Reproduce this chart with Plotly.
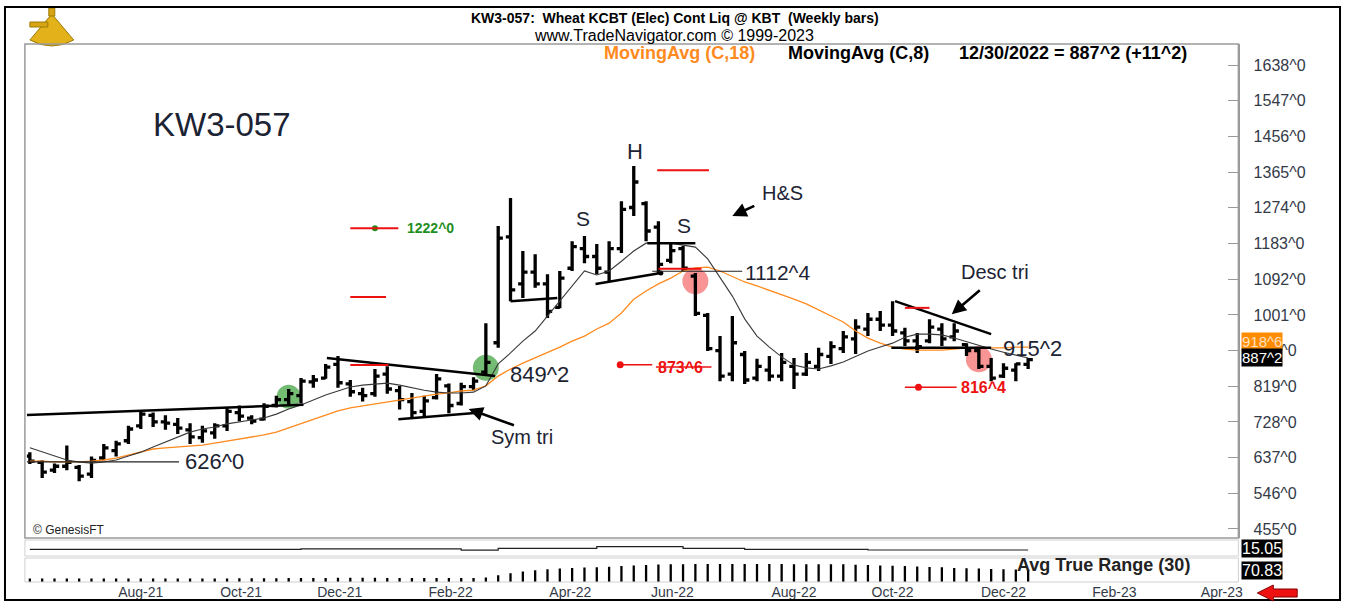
import pandas as pd
import plotly.graph_objects as go

# ---------------- data ----------------
OPEN = [641, 625, 605, 615, 612, 595, 636, 655, 680, 718,
        745, 728, 722, 708, 688, 700, 718, 752, 738, 735,
        770, 785, 795, 830, 840, 875, 825, 800, 800, 850,
        808, 780, 755, 790, 820, 775, 818, 855, 930, 1200,
        1080, 1110, 1080, 1020, 1120, 1170, 1150, 1110, 1170, 1275,
        1285, 1225, 1140, 1170, 1100, 1000, 910, 850, 900, 840,
        860, 845, 870, 850, 870, 895, 915, 940, 965, 990,
        975, 955, 935, 935, 965, 945, 925, 910, 870, 845,
        860, 875]
HIGH = [651, 630, 622, 668, 618, 640, 672, 680, 718, 756,
        752, 745, 738, 725, 718, 725, 765, 770, 745, 776,
        795, 812, 840, 848, 876, 896, 835, 815, 863, 870,
        820, 802, 795, 850, 826, 828, 842, 980, 1228, 1299,
        1164, 1156, 1105, 1113, 1189, 1202, 1182, 1189, 1291, 1381,
        1291, 1240, 1182, 1177, 1108, 1006, 947, 998, 909, 889,
        896, 904, 891, 904, 917, 934, 960, 990, 1006, 1011,
        1036, 968, 955, 990, 980, 980, 929, 917, 891, 878,
        878, 891]
LOW = [621, 585, 598, 605, 577, 585, 630, 640, 672, 710,
       715, 708, 697, 672, 675, 685, 705, 730, 722, 732,
       765, 772, 775, 815, 838, 815, 792, 780, 792, 800,
       760, 738, 742, 785, 750, 770, 808, 849, 917, 1036,
       1044, 1070, 993, 1018, 1113, 1133, 1105, 1087, 1159, 1253,
       1189, 1108, 1133, 1113, 998, 909, 832, 832, 825, 832,
       832, 832, 812, 845, 858, 876, 904, 901, 947, 960,
       947, 922, 904, 929, 922, 934, 896, 863, 832, 840,
       832, 863]
CLOSE = [628, 600, 615, 625, 590, 630, 662, 672, 710, 748,
         728, 725, 712, 690, 705, 718, 755, 743, 730, 768,
         785, 800, 832, 835, 868, 828, 805, 795, 845, 812,
         785, 752, 782, 838, 770, 818, 832, 880, 1197, 1065,
         1110, 1080, 1010, 1095, 1175, 1150, 1120, 1170, 1270, 1340,
         1215, 1130, 1165, 1120, 1005, 915, 845, 930, 835, 870,
         845, 880, 850, 880, 900, 920, 945, 970, 990, 975,
         960, 935, 920, 970, 940, 960, 910, 870, 840, 865,
         876, 887.2]
MA18 = [628, 628, 626, 626, 626, 628, 631, 636, 644, 651,
        659, 662, 664, 667, 669, 674, 679, 685, 690, 695,
        702, 713, 725, 736, 746, 756, 764, 769, 774, 779,
        784, 789, 794, 799, 802, 807, 809, 820, 845, 863,
        878, 891, 904, 919, 934, 947, 965, 980, 1006, 1041,
        1062, 1080, 1095, 1113, 1121, 1123, 1113, 1100, 1085, 1075,
        1064, 1054, 1041, 1029, 1013, 998, 983, 960, 942, 929,
        919, 914, 911, 911, 911, 914, 917, 917, 917, 917,
        919, 918.6]
MA8 = [662, 651, 641, 631, 626, 623, 626, 631, 641, 651,
       664, 677, 690, 702, 710, 715, 723, 728, 733, 738,
       748, 761, 771, 784, 797, 807, 817, 822, 825, 827,
       822, 815, 809, 804, 802, 802, 804, 820, 876, 904,
       934, 960, 998, 1036, 1075, 1113, 1103, 1113, 1138, 1164,
       1184, 1184, 1184, 1179, 1174, 1144, 1098, 1049, 991, 947,
       919, 894, 873, 866, 863, 871, 881, 894, 909, 919,
       929, 944, 952, 952, 950, 942, 932, 922, 914, 906,
       899, 891]
ATR30 = [19.5, 19.5, 19.8, 19.8, 20, 20, 20, 19.8, 19.8, 20,
         20, 20, 20.2, 20.2, 20.5, 20.5, 20.5, 20.8, 21, 21,
         21.5, 22, 23, 23, 23.2, 23.5, 23.5, 23.5, 23.5, 23.2,
         23, 23, 22.8, 22.8, 22.5, 22.5, 22.8, 26, 38, 50,
         60, 66, 72, 76, 80, 82, 84, 86, 90, 94,
         97, 99, 100, 101, 102, 102, 102, 102, 102, 102,
         102, 102, 101, 101, 101, 101, 100, 98, 96, 94,
         92, 90, 88, 85, 83, 80, 78, 76, 74, 72.5,
         71.5, 70.83]
IND2 = [16.8, 16.8, 16.8, 16.8, 16.8, 16.8, 16.8, 16.8, 16.8, 16.8,
        16.8, 16.8, 16.8, 16.8, 16.8, 16.8, 16.8, 16.8, 16.8, 16.8,
        16.8, 16.8, 17.9, 17.9, 17.9, 17.9, 17.9, 17.9, 17.9, 17.9,
        17.9, 17.9, 17.9, 17.9, 17.9, 14.7, 14.7, 14.7, 18.9, 18.9,
        18.9, 18.9, 18.9, 18.9, 18.9, 18.9, 23.2, 23.2, 23.2, 23.2,
        23.2, 23.2, 23.2, 18.9, 18.9, 18.9, 18.9, 18.9, 16.8, 16.8,
        16.8, 16.8, 16.8, 16.8, 16.8, 16.8, 16.8, 16.8, 15.05, 15.05,
        15.05, 15.05, 15.05, 15.05, 15.05, 15.05, 15.05, 15.05, 15.05, 15.05,
        15.05, 15.05]

PRICE_TICKS = [455, 546, 637, 728, 819, 910, 1001, 1092, 1183, 1274, 1365, 1456, 1547, 1638]
PRICE_TICK_TEXT = [f"{v}^0" for v in PRICE_TICKS]
MONTH_LABELS = ["Aug-21", "Oct-21", "Dec-21", "Feb-22", "Apr-22", "Jun-22",
                "Aug-22", "Oct-22", "Dec-22", "Feb-23", "Apr-23"]
MONTH_TICKS = ["2021-08-13", "2021-10-09", "2021-12-04", "2022-02-05", "2022-04-14",
               "2022-06-11", "2022-08-19", "2022-10-14", "2022-12-16", "2023-02-17",
               "2023-04-19"]

START = pd.Timestamp("2021-06-11")
DATES = [START + pd.Timedelta(weeks=i) for i in range(len(CLOSE))]

# ---------------- helpers ----------------
W, H = 1350, 602
FONT = "Liberation Sans, Arial, sans-serif"


def px(x):
    return x / W


def py(y):
    return 1 - y / H


def wk(i):
    return (START + pd.Timedelta(days=7 * i)).strftime("%Y-%m-%d %H:%M:%S")


XL, XR = 27, 1243
X_RANGE = [wk(-0.24), wk(98.06)]

fig = go.Figure()

# moving averages
fig.add_trace(go.Scatter(x=DATES, y=MA18, mode="lines", line=dict(color="#ff8a1e", width=1.3),
                         xaxis="x", yaxis="y", hoverinfo="skip"))
fig.add_trace(go.Scatter(x=DATES, y=MA8, mode="lines", line=dict(color="#3a3a3a", width=1.1),
                         xaxis="x", yaxis="y", hoverinfo="skip"))
# price bars
fig.add_trace(go.Ohlc(x=DATES, open=OPEN, high=HIGH, low=LOW, close=CLOSE,
                      increasing=dict(line=dict(color="black", width=3.3)),
                      decreasing=dict(line=dict(color="black", width=3.3)),
                      tickwidth=0.38, xaxis="x", yaxis="y", hoverinfo="skip"))
# lower indicator panels
fig.add_trace(go.Scatter(x=DATES, y=IND2, mode="lines", line=dict(color="#222", width=1.2, shape="hv"),
                         xaxis="x2", yaxis="y2", hoverinfo="skip"))
fig.add_trace(go.Bar(x=DATES, y=ATR30, marker=dict(color="black", line=dict(width=0)),
                     width=1.3 * 86400000, xaxis="x3", yaxis="y3", hoverinfo="skip"))

shapes = []
annotations = []


def tline(i0, p0, i1, p1, color="black", width=2.5):
    shapes.append(dict(type="line", xref="x", yref="y", x0=wk(i0), y0=p0, x1=wk(i1), y1=p1,
                       line=dict(color=color, width=width)))


def circle(i, p, r, color):
    shapes.append(dict(type="circle", xref="x", yref="y", xsizemode="pixel", ysizemode="pixel",
                       xanchor=wk(i), yanchor=p, x0=-r, x1=r, y0=-r, y1=r,
                       fillcolor=color, line=dict(width=0), layer="below"))


def text(t, i, p, size, color="#1c2333", anchor="left", bold=False):
    annotations.append(dict(text=f"<b>{t}</b>" if bold else t, xref="x", yref="y", x=wk(i), y=p,
                            xanchor=anchor, yanchor="middle", showarrow=False,
                            font=dict(family=FONT, size=size, color=color)))


def arrow(i_head, p_head, i_tail, p_tail):
    annotations.append(dict(text="", xref="x", yref="y", x=wk(i_head), y=p_head,
                            axref="x", ayref="y", ax=wk(i_tail), ay=p_tail, showarrow=True,
                            arrowhead=2, arrowsize=1.1, arrowwidth=2.6, arrowcolor="black"))


# signal circles
circle(21, 792, 12, "rgba(70,165,70,0.75)")
circle(37, 866, 13, "rgba(70,165,70,0.75)")
circle(54, 1087, 13, "rgba(245,90,90,0.65)")
circle(77, 888, 13, "rgba(245,90,90,0.65)")

# trend lines
tline(-0.24, 746, 22.2, 772)               # long base line
tline(24.1, 891, 37.75, 845)               # sym tri upper
tline(29.9, 735, 36.1, 751)                # sym tri lower
tline(39, 1036, 42.8, 1044)                # flag bottom
tline(45.9, 1080, 51.2, 1108)              # neckline
tline(50.1, 1184, 54, 1184)                # shoulder top
tline(70.2, 1036, 78, 952)                 # desc tri upper
tline(69.9, 917, 78, 917)                  # desc tri lower
tline(-0.24, 626, 12.1, 626, "#222", 1.2)  # 626 level
tline(50.5, 1112.4, 57.8, 1112.4, "#222", 1.2)  # 1112 level

# red level marks
tline(26, 1222, 29.9, 1222, "#ee1111", 2)
tline(26, 1047, 28.9, 1047, "#ee1111", 2)
tline(26, 873, 29.1, 873, "#ee1111", 2)
tline(50.9, 1370, 55.1, 1370, "#ee1111", 2)
tline(51, 1119, 54.5, 1119, "#ee1111", 2)
tline(71, 1019, 73, 1019, "#ee1111", 2)
tline(47.9, 873.6, 50.5, 873.6, "#ee1111", 1.5)
tline(71, 816.4, 75.2, 816.4, "#ee1111", 1.5)
tline(50.8, 868, 55.3, 868, "#ee1111", 1.5)   # strike through 873^6

# dots
fig.add_trace(go.Scatter(x=[wk(28)], y=[1222], mode="markers", marker=dict(color="#1e8f1e", size=6),
                         xaxis="x", yaxis="y", hoverinfo="skip"))
fig.add_trace(go.Scatter(x=[wk(47.9), wk(72.1)], y=[873.6, 816.4], mode="markers",
                         marker=dict(color="#ee1111", size=7), xaxis="x", yaxis="y", hoverinfo="skip"))
fig.add_trace(go.Scatter(x=[wk(51.2), wk(72)], y=[1108, 917], mode="markers",
                         marker=dict(color="black", size=5), xaxis="x", yaxis="y", hoverinfo="skip"))

# pattern labels
text("H", 49.1, 1418, 22, anchor="center")
text("S", 44.9, 1246, 21, anchor="center")
text("S", 53.1, 1230, 21, anchor="center")
text("H&amp;S", 61.1, 1312, 20, anchor="center")
arrow(57, 1253, 58.9, 1281)
text("1112^4", 57.9, 1110, 21)
text("Desc tri", 78.3, 1110, 20, anchor="center")
arrow(74.8, 1003, 77.2, 1067)
text("915^2", 78.8, 915, 22)
text("849^2", 38.8, 849, 22)
text("Sym tri", 39.9, 690, 20, anchor="center")
arrow(35.6, 761, 39.4, 718)
text("626^0", 12.4, 626, 22)
text("1222^0", 30.4, 1222, 14, color="#1e8f1e", bold=True)
text("873^6", 50.8, 868, 16, color="#ee1111", bold=True)
text("816^4", 75.4, 816, 16, color="#ee1111", bold=True)


def ptext(t, x, y, size, color="black", anchor="left", bold=False, bg=None):
    d = dict(text=f"<b>{t}</b>" if bold else t, xref="paper", yref="paper", x=px(x), y=py(y),
             xanchor=anchor, yanchor="middle", showarrow=False,
             font=dict(family=FONT, size=size, color=color))
    if bg:
        d.update(bgcolor=bg, borderpad=0)
    annotations.append(d)


ptext("KW3-057:  Wheat KCBT (Elec) Cont Liq @ KBT  (Weekly bars)", 678, 18, 14, anchor="center", bold=True)
ptext("www.TradeNavigator.com © 1999-2023", 677, 36, 16, anchor="center")
ptext("MovingAvg (C,18)", 604, 53, 18, color="#ff8a1e", bold=True)
ptext("MovingAvg (C,8)", 789, 53, 18, bold=True)
ptext("12/30/2022 = 887^2 (+11^2)", 961, 53, 18, bold=True)
ptext("KW3-057", 152, 125, 33, color="#1c2333")
ptext("© GenesisFT", 31, 530, 12, color="#222")
ptext("Avg True Range (30)", 1019, 565, 18, color="#222", bold=True)
ptext("918^6", 1246, 342, 15, color="#ffe0c0", bg="#ff8c00")
ptext("887^2", 1246, 357, 15, color="white", bg="black")
ptext("15.05", 1246, 548, 16, color="white", bg="black")
ptext("70.83", 1246, 570, 16, color="white", bg="black")

# logo (rough gold sextant)
shapes.append(dict(type="path", xref="paper", yref="paper",
                   path=(f"M {px(52)},{py(14)} L {px(30)},{py(40)} Q {px(52)},{py(52)} {px(74)},{py(40)} Z"),
                   fillcolor="#e3b21a", line=dict(color="#9c7a08", width=1)))
shapes.append(dict(type="rect", xref="paper", yref="paper", x0=px(30), y0=py(27), x1=px(48), y1=py(22),
                   fillcolor="#d7a514", line=dict(color="#9c7a08", width=1)))
shapes.append(dict(type="rect", xref="paper", yref="paper", x0=px(49), y0=py(16), x1=px(55), y1=py(8),
                   fillcolor="#d7a514", line=dict(color="#9c7a08", width=1)))

# frames
shapes.append(dict(type="rect", xref="paper", yref="paper", x0=px(5), y0=py(600), x1=px(1345), y1=py(7),
                   line=dict(color="black", width=2)))
shapes.append(dict(type="rect", xref="paper", yref="paper", x0=px(25), y0=py(538), x1=px(1243), y1=py(44),
                   line=dict(color="#9a9a9a", width=1.5)))
shapes.append(dict(type="rect", xref="paper", yref="paper", x0=px(25), y0=py(556), x1=px(1243), y1=py(540),
                   line=dict(color="#d0d0d0", width=1)))
shapes.append(dict(type="rect", xref="paper", yref="paper", x0=px(25), y0=py(582), x1=px(1243), y1=py(558),
                   line=dict(color="#d0d0d0", width=1)))
# red arrow bottom-right
shapes.append(dict(type="path", xref="paper", yref="paper",
                   path=(f"M {px(1262)},{py(593)} L {px(1278)},{py(585)} L {px(1278)},{py(589)} "
                         f"L {px(1302)},{py(589)} L {px(1302)},{py(597)} L {px(1278)},{py(597)} "
                         f"L {px(1278)},{py(601)} Z"),
                   fillcolor="#ee1111", line=dict(color="#880000", width=1)))

xdom = [px(XL), px(XR)]
fig.update_layout(
    width=W, height=H, autosize=False, margin=dict(l=0, r=0, t=0, b=0),
    paper_bgcolor="white", plot_bgcolor="white", showlegend=False, hovermode=False,
    font=dict(family=FONT),
    xaxis=dict(domain=xdom, type="date", range=X_RANGE, showticklabels=False, showgrid=False,
               zeroline=False, rangeslider=dict(visible=False), anchor="y"),
    yaxis=dict(domain=[py(538), py(44)], range=[432, 1692], side="right", anchor="x",
               tickvals=PRICE_TICKS, ticktext=PRICE_TICK_TEXT, ticks="inside", ticklen=10,
               tickcolor="#999", showgrid=False, zeroline=False, showline=True, linecolor="#9a9a9a",
               linewidth=2, ticklabelstandoff=10,
               tickfont=dict(family=FONT, size=16, color="#333a48")),
    xaxis2=dict(domain=xdom, type="date", range=X_RANGE, matches="x", showticklabels=False,
                showgrid=False, zeroline=False, anchor="y2"),
    yaxis2=dict(domain=[py(556), py(540)], range=[0, 40], visible=False, anchor="x2"),
    xaxis3=dict(domain=xdom, type="date", range=X_RANGE, matches="x", anchor="y3",
                tickvals=MONTH_TICKS, ticktext=MONTH_LABELS, ticks="", showgrid=False,
                zeroline=False, tickfont=dict(family=FONT, size=14, color="#333a48")),
    yaxis3=dict(domain=[py(582), py(558)], range=[0, 136], visible=False, anchor="x3"),
    shapes=shapes, annotations=annotations,
)

fig.write_html("out.html", config={"displayModeBar": False, "staticPlot": True})

# remove the default 8px page margin so the figure fills the window exactly
with open("out.html", "r", encoding="utf-8") as f:
    html = f.read()
html = html.replace("<head>", "<head><style>html,body{margin:0;padding:0;overflow:hidden;}</style>", 1)
with open("out.html", "w", encoding="utf-8") as f:
    f.write(html)
